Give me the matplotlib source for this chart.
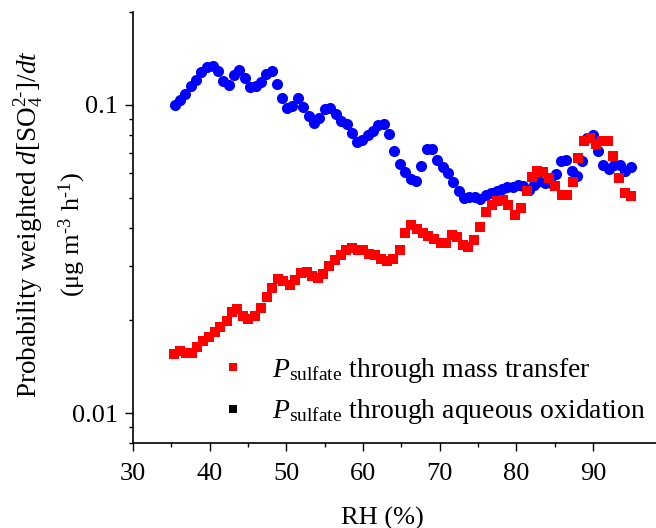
import matplotlib.pyplot as plt
from matplotlib.lines import Line2D
from matplotlib.ticker import FixedLocator, NullFormatter

plt.rcParams['font.family'] = 'Liberation Serif'
plt.rcParams['mathtext.fontset'] = 'custom'
plt.rcParams['mathtext.rm'] = 'Liberation Serif'
plt.rcParams['mathtext.it'] = 'Liberation Serif:italic'
plt.rcParams['mathtext.bf'] = 'Liberation Serif:bold'

# aqueous oxidation (blue circles)
rh_aq = [35.48, 36.13, 36.78, 37.53, 38.22, 38.87, 39.61, 40.40, 41.13, 41.78,
         42.48, 43.18, 43.87, 44.61, 45.26, 46.04, 46.70, 47.35, 48.09, 48.74,
         49.40, 50.05, 50.78, 51.56, 52.21, 52.96, 53.61, 54.30, 55.04, 55.69,
         56.44, 57.09, 57.87, 58.53, 59.26, 59.91, 60.61, 61.26, 61.99, 62.74,
         63.43, 64.08, 64.82, 65.48, 66.22, 66.91, 67.56, 68.31, 69.04, 69.69,
         70.39, 71.12, 71.78, 72.52, 73.17, 73.86, 74.61, 75.26, 76.04, 76.69,
         77.44, 78.09, 78.82, 79.52, 80.25, 80.91, 81.65, 82.30, 82.99, 83.74,
         84.48, 85.13, 85.78, 86.48, 87.22, 87.87, 88.60, 89.25, 89.96, 90.69,
         91.34, 92.12, 92.78, 93.52, 94.17, 94.92]
p_aq = [0.0998, 0.1038, 0.1086, 0.1154, 0.1207, 0.1275, 0.1324, 0.1341, 0.1291, 0.1198,
        0.1162, 0.1253, 0.1301, 0.1223, 0.1145, 0.1154, 0.1183, 0.1260, 0.1291, 0.1168,
        0.1052, 0.0980, 0.0992, 0.1052, 0.0987, 0.0921, 0.0876, 0.0905, 0.0968, 0.0975,
        0.0937, 0.0887, 0.0865, 0.0812, 0.0759, 0.0768, 0.0796, 0.0822, 0.0860, 0.0869,
        0.0802, 0.0707, 0.0643, 0.0604, 0.0576, 0.0567, 0.0632, 0.0717, 0.0717, 0.0660,
        0.0629, 0.0601, 0.0561, 0.0524, 0.0498, 0.0501, 0.0502, 0.0494, 0.0508, 0.0516,
        0.0524, 0.0534, 0.0540, 0.0542, 0.0548, 0.0544, 0.0529, 0.0548, 0.0567, 0.0557,
        0.0557, 0.0596, 0.0656, 0.0664, 0.0609, 0.0586, 0.0656, 0.0781, 0.0796, 0.0707,
        0.0640, 0.0617, 0.0640, 0.0640, 0.0609, 0.0627]

# mass transfer (red squares)
rh_mt = [35.39, 36.13, 36.87, 37.66, 38.31, 39.09, 39.91, 40.70, 41.35, 42.22,
         42.87, 43.60, 44.31, 45.04, 45.91, 46.70, 47.44, 48.17, 48.87, 49.60,
         50.48, 51.13, 51.87, 52.66, 53.39, 54.17, 54.82, 55.60, 56.35, 57.09,
         57.78, 58.53, 59.31, 60.04, 60.82, 61.56, 62.31, 63.09, 63.85, 64.82,
         65.48, 66.26, 67.08, 67.79, 68.52, 69.30, 70.13, 70.82, 71.57, 72.30,
         73.08, 73.73, 74.52, 75.26, 76.04, 76.79, 77.52, 78.22, 78.95, 79.82,
         80.61, 81.35, 82.00, 82.73, 83.52, 84.30, 85.04, 85.92, 86.65, 87.35,
         88.08, 88.82, 89.61, 90.39, 91.13, 91.91, 92.64, 93.39, 94.17, 94.92]
p_mt = [0.0155, 0.0159, 0.0157, 0.0157, 0.0164, 0.0172, 0.0176, 0.0183, 0.0190, 0.0199,
        0.0213, 0.0217, 0.0206, 0.0202, 0.0207, 0.0220, 0.0238, 0.0254, 0.0273, 0.0269,
        0.0260, 0.0271, 0.0285, 0.0287, 0.0278, 0.0274, 0.0283, 0.0300, 0.0313, 0.0325,
        0.0339, 0.0343, 0.0339, 0.0338, 0.0329, 0.0325, 0.0317, 0.0311, 0.0316, 0.0339,
        0.0385, 0.0407, 0.0397, 0.0385, 0.0376, 0.0368, 0.0355, 0.0355, 0.0378, 0.0373,
        0.0351, 0.0346, 0.0364, 0.0402, 0.0450, 0.0474, 0.0488, 0.0492, 0.0474, 0.0439,
        0.0462, 0.0524, 0.0582, 0.0612, 0.0605, 0.0579, 0.0544, 0.0511, 0.0508, 0.0560,
        0.0670, 0.0766, 0.0778, 0.0747, 0.0766, 0.0766, 0.0681, 0.0579, 0.0517, 0.0507]

x_major = [30, 40, 50, 60, 70, 80, 90]
x_minor = [35, 45, 55, 65, 75, 85]
y_major = [0.01, 0.1]
y_major_labels = ['0.01', '0.1']
y_minor = [0.008, 0.009, 0.02, 0.03, 0.04, 0.05, 0.06, 0.07, 0.08, 0.09, 0.2]

legend_labels = [r'$P_{\mathrm{sulfate}}$ through mass transfer',
                 r'$P_{\mathrm{sulfate}}$ through aqueous oxidation']

fontsize = 19

fig = plt.figure(figsize=(6.56, 5.28), dpi=100)
ax = fig.add_axes([133/656, 85/528, 523/656, 431/528])

ax.plot(rh_aq, p_aq, 'o', color='#0000ff', markersize=8, markeredgewidth=0)
ax.plot(rh_mt, p_mt, 's', color='#ff0000', markersize=6.5, markeredgewidth=0)

ax.set_yscale('log')
ax.set_xlim(30, 98.2)
ax.set_ylim(0.008, 0.2)

ax.xaxis.set_major_locator(FixedLocator(x_major))
ax.xaxis.set_minor_locator(FixedLocator(x_minor))
ax.yaxis.set_major_locator(FixedLocator(y_major))
ax.yaxis.set_minor_locator(FixedLocator(y_minor))
ax.set_yticklabels(y_major_labels)
ax.yaxis.set_minor_formatter(NullFormatter())

for s in ['top', 'right']:
    ax.spines[s].set_visible(False)
for s in ['left', 'bottom']:
    ax.spines[s].set_linewidth(1.2)

ax.tick_params(which='major', direction='out', length=5.5, width=1.0,
               labelsize=fontsize, pad=5)
ax.tick_params(axis='x', which='major', pad=9)
ax.tick_params(which='minor', direction='out', length=3.2, width=1.0)

fig.text(382/656, 1 - 518/528, 'RH (%)', fontsize=fontsize,
         ha='center', va='center')
fig.text(29/656, 1 - 224/528,
         r'Probability weighted $d$[SO$_4^{2‐}$]/$dt$',
         fontsize=19.5, rotation=90, ha='center', va='center')
fig.text(72/656, 1 - 234/528, r'($\mathrm{\mu}$g m$^{‐3}$ h$^{‐1}$)',
         fontsize=19, rotation=90, ha='center', va='center')

handles = [Line2D([], [], ls='none', marker='s', color='#ff0000', markersize=6, markeredgewidth=0),
           Line2D([], [], ls='none', marker='s', color='black', markersize=6, markeredgewidth=0)]
ax.legend(handles, legend_labels, loc='center left', frameon=False,
          fontsize=20, bbox_to_anchor=(205/656, 1 - 391/528),
          bbox_transform=fig.transFigure, borderaxespad=0, labelspacing=0.45,
          handlelength=1.2, handletextpad=0.8)

fig.savefig('out.png', dpi=100)
